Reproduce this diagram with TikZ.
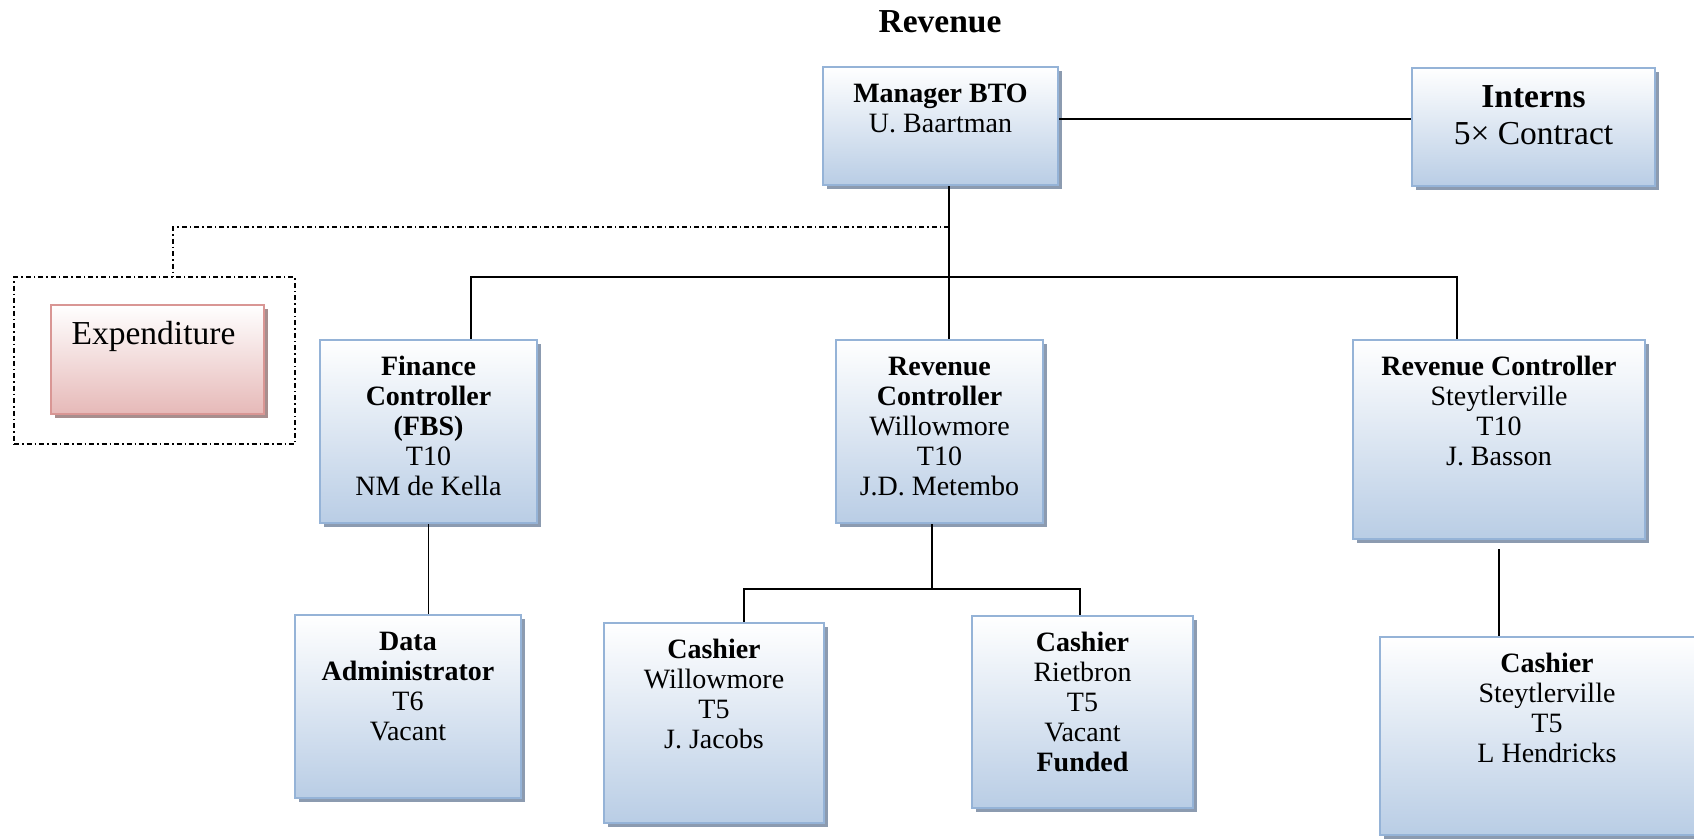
\documentclass[tikz,border=0pt]{standalone}
\usepackage{fontspec}
\setmainfont{Liberation Serif}
\usetikzlibrary{shadows}
\definecolor{boxfill}{HTML}{B9CDE5}
\definecolor{boxedge}{HTML}{95B3D7}
\definecolor{boxshade}{HTML}{8C9BB0}
\definecolor{expfill}{HTML}{E6B9B8}
\definecolor{expedge}{HTML}{D99694}
\definecolor{expshade}{HTML}{A88E8E}
% top-aligned, centred text block of a fixed size: width, height, lines
\newcommand{\orgtxt}[3]{\begin{minipage}[t][#2][t]{#1}\centering\vspace*{14pt}\strut#3\end{minipage}}
\begin{document}
\begin{tikzpicture}[x=1pt,y=-1pt,
  orgbox/.style={draw=boxedge, line width=2pt, top color=white, bottom color=boxfill,
    inner sep=0pt, text=black, font=\fontsize{28}{30}\selectfont,
    drop shadow={shadow xshift=4pt, shadow yshift=-4pt, fill=boxshade, opacity=1}},
  bigbox/.style={orgbox, font=\fontsize{33.5}{37}\selectfont},
  expbox/.style={bigbox, draw=expedge, bottom color=expfill,
    drop shadow={shadow xshift=4pt, shadow yshift=-4pt, fill=expshade, opacity=1}},
  dashdot/.style={line width=1.4pt, dash pattern=on 5pt off 3pt on 1.5pt off 3pt},
  grpbox/.style={dashdot, draw=black, inner sep=0pt},
  link/.style={line width=1.4pt, draw=black},
  heading/.style={font=\fontsize{33.5}{37}\selectfont\bfseries}]
\useasboundingbox (0,0) rectangle (1694,838);

% heading
\node[heading] (title) at (940,22) {Revenue};

% top level
\node[orgbox] (mgr) at (940.5,126)
  {\orgtxt{235pt}{118pt}{\textbf{Manager BTO}\\U. Baartman}};
\node[bigbox] (ints) at (1533.5,127)
  {\orgtxt{243pt}{118pt}{\textbf{Interns}\\5× Contract}};

% expenditure group
\node[grpbox, minimum width=281pt, minimum height=167pt] (grp) at (154.5,360.5) {};
\node[expbox] (exp) at (157.5,359.5)
  {\orgtxt{205pt}{109pt}{Expenditure}\hspace*{8pt}};

% controllers
\node[orgbox] (fin) at (428.5,431.5)
  {\orgtxt{217pt}{183pt}{\textbf{Finance}\\\textbf{Controller}\\\textbf{(FBS)}\\T10\\NM de Kella}};
\node[orgbox] (rcw) at (939.5,431.5)
  {\orgtxt{207pt}{183pt}{\textbf{Revenue}\\\textbf{Controller}\\Willowmore\\T10\\J.D. Metembo}};
\node[orgbox] (rcs) at (1499,439.5)
  {\orgtxt{292pt}{199pt}{\textbf{Revenue Controller}\\Steytlerville\\T10\\J. Basson}};

% staff
\node[orgbox] (da) at (408,706.5)
  {\orgtxt{226pt}{183pt}{\textbf{Data}\\\textbf{Administrator}\\T6\\Vacant}};
\node[orgbox] (cw) at (714,723)
  {\orgtxt{220pt}{200pt}{\textbf{Cashier}\\Willowmore\\T5\\J. Jacobs}};
\node[orgbox] (cr) at (1082.5,712)
  {\orgtxt{221pt}{192pt}{\textbf{Cashier}\\Rietbron\\T5\\Vacant\\\textbf{Funded}}};
\node[orgbox] (cs) at (1547,736)
  {\orgtxt{334pt}{198pt}{\textbf{Cashier}\\Steytlerville\\T5\\L Hendricks}};

% junction points
\coordinate (bus) at (949,277);
\coordinate (tap) at (949,227);
\coordinate (gtop) at (173,277);
\coordinate (sbus) at (932,589);

% connectors
\draw[link] ([yshift=7pt]mgr.east) -- ([yshift=7pt]mgr.east -| ints.west);
\draw[link] ([xshift=8.5pt]mgr.south) -- (bus);
\draw[link] (bus) -| ([xshift=42.5pt]fin.north);
\draw[link] (bus) -- (bus |- rcw.north);
\draw[link] (bus) -| ([xshift=-42pt]rcs.north);
\draw[dashdot] (tap) -| (gtop);
\draw[link] (fin.south) -- (fin.south |- da.north);
\draw[link] ([xshift=-7.5pt]rcw.south) -- (sbus);
\draw[link] (sbus) -| ([xshift=30pt]cw.north);
\draw[link] (sbus) -| ([xshift=-2.5pt]cr.north);
\draw[link] ([yshift=-9pt]rcs.south) -- (rcs.south |- cs.north);
\end{tikzpicture}
\end{document}
